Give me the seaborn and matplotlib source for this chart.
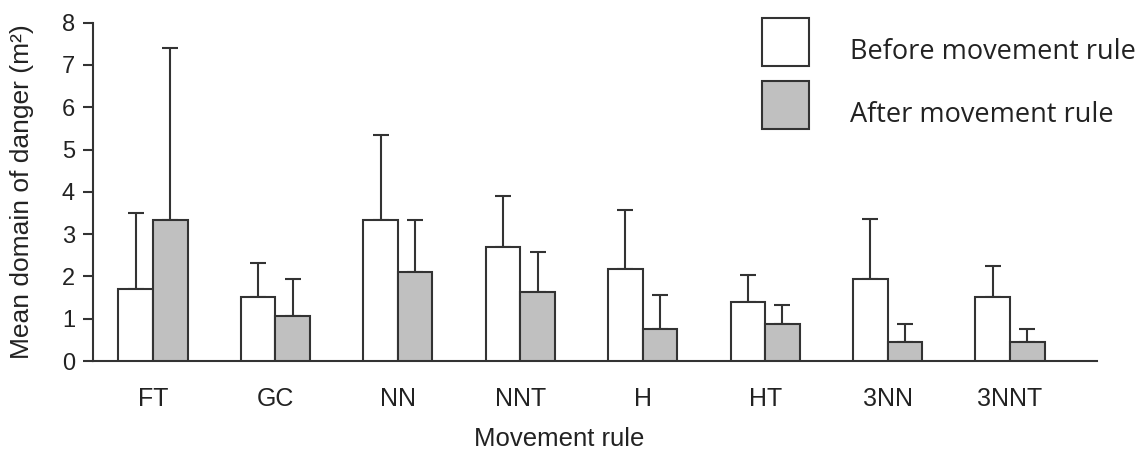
import numpy as np
import pandas as pd
import matplotlib
matplotlib.use("Agg")
import matplotlib.pyplot as plt
import seaborn as sns

# Movement rules and mean domain of danger (m²) with upper error bars
rules = ["FT", "GC", "NN", "NNT", "H", "HT", "3NN", "3NNT"]
phases = ["Before movement rule", "After movement rule"]
before_mean = [1.71, 1.52, 3.33, 2.69, 2.17, 1.40, 1.93, 1.51]
before_err = [1.78, 0.79, 2.01, 1.21, 1.39, 0.64, 1.43, 0.73]
after_mean = [3.33, 1.06, 2.11, 1.62, 0.76, 0.87, 0.45, 0.45]
after_err = [4.06, 0.87, 1.22, 0.95, 0.79, 0.45, 0.42, 0.30]
y_ticks = [0, 1, 2, 3, 4, 5, 6, 7, 8]

sns.set_style("ticks")
plt.rcParams["font.family"] = ["Liberation Sans", "DejaVu Sans"]

ink = "#333333"
text_col = "#222222"
df = pd.DataFrame({
    "rule": rules * 2,
    "phase": [phases[0]] * len(rules) + [phases[1]] * len(rules),
    "mean": before_mean + after_mean,
})

fig = plt.figure(figsize=(11.48, 4.5), dpi=100)
ax = fig.add_axes([93 / 1148, 1 - 361 / 450, (1097 - 93) / 1148, (361 - 22.7) / 450])

sns.barplot(data=df, x="rule", y="mean", hue="phase", order=rules,
            hue_order=phases, palette=["white", "#c0c0c0"], saturation=1,
            width=0.565, edgecolor=ink, linewidth=1.5, errorbar=None,
            ax=ax, zorder=3)

# one-sided (upper) error bars on each bar
for container, errs in zip(ax.containers, [before_err, after_err]):
    xs = [b.get_x() + b.get_width() / 2 for b in container]
    ys = [b.get_height() for b in container]
    ax.errorbar(xs, ys, yerr=[np.zeros(len(errs)), errs], fmt="none",
                ecolor=ink, elinewidth=1.5, capsize=5.5, capthick=1.5,
                zorder=2)

ax.set_xlim(-0.49, 7.71)
ax.set_ylim(0, 8)
ax.set_yticks(y_ticks)
sns.despine(ax=ax)
for side in ["left", "bottom"]:
    ax.spines[side].set_color(ink)
    ax.spines[side].set_linewidth(1.5)
ax.tick_params(axis="y", length=7, width=1.5, color=ink, pad=6,
               labelsize=17, labelcolor=text_col)
ax.tick_params(axis="x", length=0, pad=19, labelsize=18,
               labelcolor=text_col)
ax.set_xlabel("Movement rule", fontsize=18.5, color=text_col)
ax.xaxis.set_label_coords(0.464, -0.196)
ax.set_ylabel("Mean domain of danger (m²)", fontsize=19, color=text_col)
ax.yaxis.set_label_coords(-0.059, 0.5)

handles, labels = ax.get_legend_handles_labels()
ax.get_legend().remove()
leg = fig.legend(handles, labels, loc="upper left",
                 bbox_to_anchor=(762 / 1148, 1 - 18 / 450),
                 frameon=False, borderpad=0, borderaxespad=0,
                 handlelength=1.74, handleheight=2.35, handletextpad=1.5,
                 labelspacing=0.55,
                 prop={"family": "Open Sans", "size": 19.5})
# legend labels sit a little below the centre of their swatches
for t in leg.get_texts():
    t.set_color(text_col)
    t.set_position((0, -9))

fig.savefig("out.png", dpi=100)
